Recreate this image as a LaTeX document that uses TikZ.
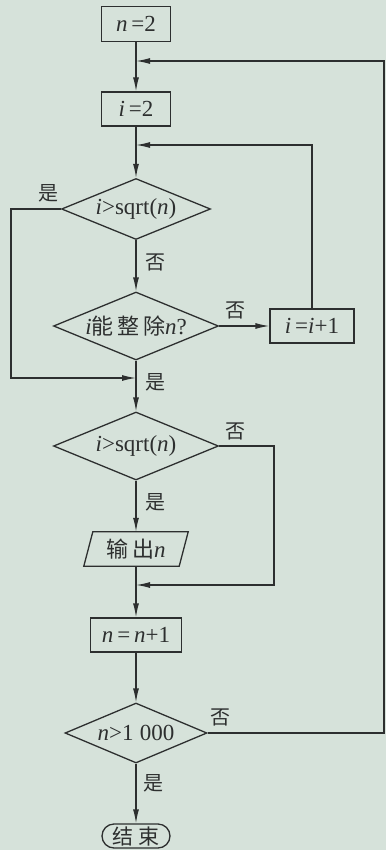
\documentclass[tikz,border=0pt]{standalone}
\usepackage{fontspec}
\setmainfont{Liberation Serif}
\newfontfamily\cjk{Noto Sans CJK SC}
\usetikzlibrary{shapes.geometric,shapes.misc,arrows.meta}
\definecolor{bg}{RGB}{214,226,218}
\definecolor{ink}{RGB}{45,47,47}
\newcommand\iv[1]{\textit{#1}}
\tikzset{
  base/.style={draw=ink, line width=1.3pt, text=ink, inner sep=0pt, font=\fontsize{23}{26}\selectfont},
  procbox/.style={base, rectangle},
  decision/.style={base, diamond, label={[text=ink, inner sep=0pt, font=\fontsize{23}{26}\selectfont]center:#1}},
  termbox/.style={base, rounded rectangle},
  flow/.style={draw=ink, line width=1.3pt, -{Latex[length=14pt,width=6pt]}},
  plain/.style={draw=ink, line width=1.3pt},
  lab/.style={text=ink, inner sep=0pt, font=\fontsize{20}{23}\selectfont\cjk},
}
\begin{document}
\begin{tikzpicture}[x=1pt,y=-1pt]
\fill[bg] (0,0) rectangle (386,850);
\useasboundingbox (0,0) rectangle (386,850);

\node[procbox, minimum width=69pt, minimum height=35pt] (n2) at (136,24) {\iv{n}\,=2};
\node[procbox, minimum width=69pt, minimum height=34pt] (i2) at (136,109) {\iv{i}\,=2};
\node[decision={\iv{i}>sqrt(\iv{n})}, minimum width=149pt, minimum height=61pt] (d1) at (136,209) {};
\node[decision={\iv{i}{\cjk\fontsize{22}{26}\selectfont 能\,整\,除}\iv{n}?}, minimum width=165pt, minimum height=68pt] (d2) at (136,326) {};
\node[procbox, minimum width=84pt, minimum height=34pt] (inc) at (312,326) {\iv{i}\,=\iv{i}+1};
\node[decision={\iv{i}>sqrt(\iv{n})}, minimum width=165pt, minimum height=68pt] (d3) at (136,446) {};
\node[inner sep=0pt, minimum width=95pt, minimum height=34pt, text=ink, font=\fontsize{23}{26}\selectfont] (out) at (136,549) {{\cjk\fontsize{22}{26}\selectfont 输\,出}\iv{n}};
\draw[plain] ([xshift=-4.5pt]out.south west) -- ([xshift=4.5pt]out.north west) -- ([xshift=4.5pt]out.north east) -- ([xshift=-4.5pt]out.south east) -- cycle;
\node[procbox, minimum width=91pt, minimum height=34pt] (nn) at (136,635) {\iv{n}\,=\,\iv{n}+1};
\node[decision={\iv{n}>1\;000}, minimum width=142pt, minimum height=60pt] (d4) at (136,733) {};
\node[termbox, minimum width=68pt, minimum height=24pt, font=\fontsize{21}{22}\selectfont\cjk] (end) at (136,836) {结\;束};

\coordinate (m1) at (136,61);
\coordinate (m2) at (136,145);
\coordinate (m3) at (136,378);
\coordinate (m4) at (136,585);
\coordinate (r1) at (384,733);
\coordinate (r1t) at (384,61);
\coordinate (l1) at (11,209);
\coordinate (l1b) at (11,378);
\coordinate (r3) at (274,446);
\coordinate (r3b) at (274,585);

\draw[flow] (n2.south) -- (i2.north);
\draw[flow] (i2.south) -- (d1.north);
\draw[flow] (d1.south) -- (d2.north);
\draw[flow] (d2.south) -- (d3.north);
\draw[flow] (d3.south) -- (out.north);
\draw[flow] (out.south) -- (nn.north);
\draw[flow] (nn.south) -- (d4.north);
\draw[flow] (d4.south) -- (end.north);
\draw[flow] (d2.east) -- (inc.west);
\draw[flow] (inc.north) |- (m2);
\draw[flow] (d1.west) -- (l1) -- (l1b) -- (m3);
\draw[flow] (d3.east) -- (r3) -- (r3b) -- (m4);
\draw[flow] (d4.east) -- (r1) -- (r1t) -- (m1);

\node[lab] (y1) at (48,193) {是};
\node[lab] (n1) at (155,262) {否};
\node[lab] (n2l) at (235,310) {否};
\node[lab] (y2) at (155,382) {是};
\node[lab] (n3) at (235,431) {否};
\node[lab] (y3) at (155,502) {是};
\node[lab] (n4) at (220,717) {否};
\node[lab] (y4) at (153,783) {是};
\end{tikzpicture}
\end{document}
